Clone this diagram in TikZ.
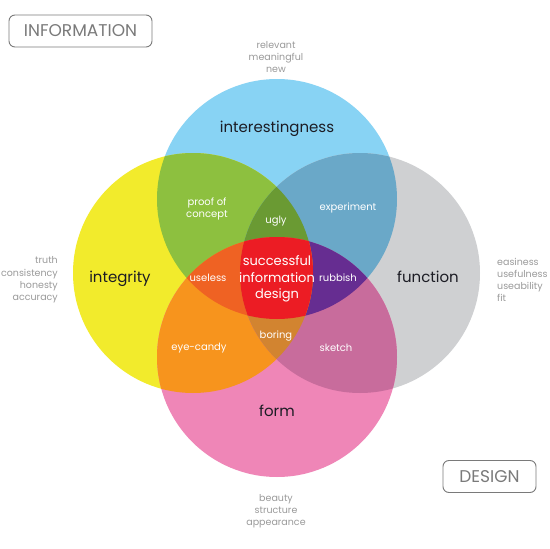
\documentclass[tikz,border=0pt]{standalone}
\usepackage{fontspec}
\setmainfont{Poppins}
\definecolor{cblue}{HTML}{88D3F4}
\definecolor{cyellow}{HTML}{F2EB2C}
\definecolor{cgray}{HTML}{CFD0D2}
\definecolor{cpink}{HTML}{EF86B7}
\definecolor{cgreen}{HTML}{8DC03F}
\definecolor{csteel}{HTML}{6AA8C8}
\definecolor{corange}{HTML}{F7941D}
\definecolor{cmauve}{HTML}{C86C9C}
\definecolor{cugly}{HTML}{6A9A33}
\definecolor{crubbish}{HTML}{662D91}
\definecolor{cuseless}{HTML}{EF6223}
\definecolor{cboring}{HTML}{D28430}
\definecolor{ccenter}{HTML}{EC1C24}
\definecolor{outertext}{HTML}{9A9A9A}
\definecolor{boxtext}{HTML}{7A7A7A}
\definecolor{maintext}{HTML}{1C1C24}
\def\cB{(277,199) circle[radius=120pt]}
\def\cY{(193,273) circle[radius=120pt]}
\def\cG{(360,273) circle[radius=120pt]}
\def\cP{(277,357) circle[radius=120pt]}
\tikzset{
  mainlabel/.style={text=maintext, font=\fontsize{15}{17}\selectfont, text height=0.7em, text depth=0.2em, inner sep=0pt},
  inlabel/.style={text=white, font=\fontsize{10}{12.3}\selectfont, align=center, inner sep=0pt},
  outlabel/.style={text=outertext, font=\fontsize{9.5}{12.2}\selectfont, inner sep=0pt},
  tagbox/.style={draw=boxtext, line width=0.9pt, rounded corners=6pt, text=boxtext, font=\fontsize{17}{20}\selectfont, inner sep=0pt, minimum height=32pt}
}
\begin{document}
\begin{tikzpicture}[x=1pt,y=-1pt]
\fill[white] (0,0) rectangle (550,549);
\useasboundingbox (0,0) rectangle (550,549);
% base circles
\fill[cblue] \cB;
\fill[cyellow] \cY;
\fill[cgray] \cG;
\fill[cpink] \cP;
% pairwise
\begin{scope}\clip \cB; \fill[cgreen] \cY; \end{scope}
\begin{scope}\clip \cB; \fill[csteel] \cG; \end{scope}
\begin{scope}\clip \cY; \fill[corange] \cP; \end{scope}
\begin{scope}\clip \cG; \fill[cmauve] \cP; \end{scope}
% triples
\begin{scope}\clip \cB; \clip \cY; \fill[cugly] \cG; \end{scope}
\begin{scope}\clip \cB; \clip \cG; \fill[crubbish] \cP; \end{scope}
\begin{scope}\clip \cB; \clip \cY; \fill[cuseless] \cP; \end{scope}
\begin{scope}\clip \cY; \clip \cG; \fill[cboring] \cP; \end{scope}
% all four
\begin{scope}\clip \cB; \clip \cY; \clip \cG; \fill[ccenter] \cP; \end{scope}

% tag boxes
\node[tagbox, minimum width=143pt] (info) at (80.5,31) {INFORMATION};
\node[tagbox, minimum width=93pt] (design) at (489.5,476.5) {DESIGN};

% main labels
\node[mainlabel] (interest) at (277,130) {interestingness};
\node[mainlabel] (integrity) at (120,280) {integrity};
\node[mainlabel] (function) at (428,280) {function};
\node[mainlabel] (form) at (277,414) {form};

% inner labels
\node[inlabel] (proof) at (207,209) {proof of\\concept};
\node[inlabel] (ugly) at (276,221) {ugly};
\node[inlabel] (experiment) at (348,208) {experiment};
\node[inlabel] (useless) at (208,278) {useless};
\node[inlabel] (rubbish) at (338,278) {rubbish};
\node[inlabel] (eyecandy) at (199,348) {eye-candy};
\node[inlabel] (boring) at (276,336) {boring};
\node[inlabel] (sketch) at (336,348) {sketch};
\node[inlabel, font=\fontsize{13}{16.5}\selectfont] (success) at (277,279) {successful\\information\\design};

% outer labels
\node[outlabel, align=center] (relevant) at (276,57) {relevant\\meaningful\\new};
\node[outlabel, align=right, anchor=east] (truth) at (58,280) {truth\\consistency\\honesty\\accuracy};
\node[outlabel, align=left, anchor=west] (easiness) at (497,280) {easiness\\usefulness\\useability\\fit};
\node[outlabel, align=center] (beauty) at (276,511) {beauty\\structure\\appearance};
\end{tikzpicture}
\end{document}
